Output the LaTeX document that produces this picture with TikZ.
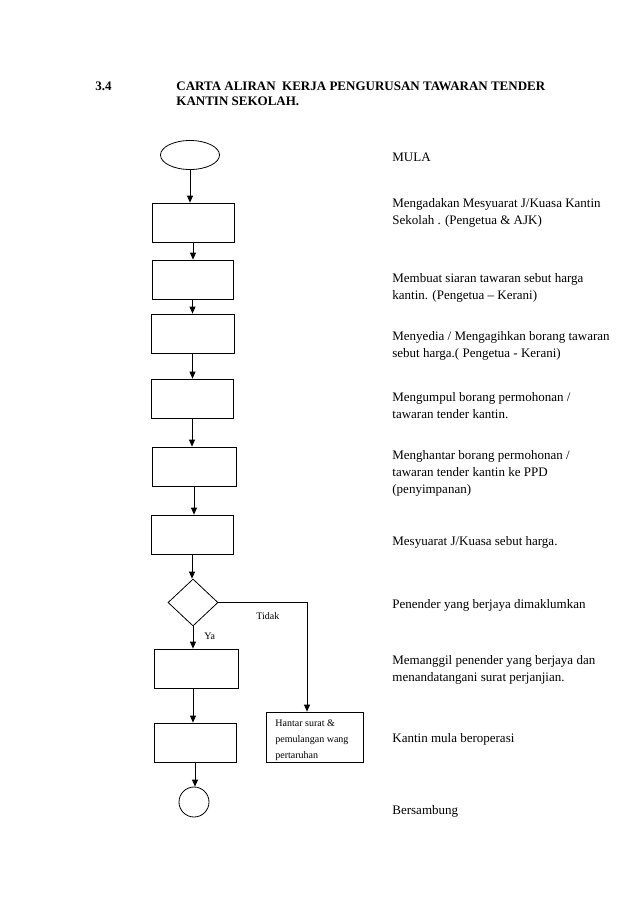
\documentclass[tikz,border=0pt]{standalone}
\usepackage{fontspec}
\setmainfont{Liberation Serif}
\usetikzlibrary{arrows.meta,shapes.geometric}
\begin{document}
\begin{tikzpicture}[x=1pt,y=-1pt,
  every path/.style={line width=0.8pt},
  stepbox/.style={draw, line width=0.8pt, minimum width=82pt, minimum height=39pt, inner sep=0pt},
  lbl/.style={anchor=base west, align=left, inner sep=0pt, font=\fontsize{13}{17}\selectfont},
  small/.style={inner sep=0pt, font=\fontsize{10}{16}\selectfont},
  arr/.style={-{Triangle[length=7pt,width=6pt]}, line width=0.8pt}
]
\useasboundingbox[fill=white] (0,0) rectangle (638,903);
% title
\node[anchor=base west, inner sep=0pt, font=\fontsize{13}{15}\selectfont\bfseries] (num) at (95,90) {3.4};
\node[anchor=base west, inner sep=0pt, align=left, font=\fontsize{13}{15}\selectfont\bfseries] (title) at (176,105) {CARTA ALIRAN\ \ KERJA PENGURUSAN TAWARAN TENDER\\KANTIN SEKOLAH.};
% flow shapes
\node[draw, ellipse, minimum width=59pt, minimum height=29pt, inner sep=0pt] (start) at (190,155) {};
\node[stepbox] (b1) at (193,222.5) {};
\node[stepbox, minimum width=81pt] (b2) at (192.5,279.5) {};
\node[stepbox, minimum width=83pt] (b3) at (192.5,333.5) {};
\node[stepbox] (b4) at (192,398.5) {};
\node[stepbox, minimum width=84pt] (b5) at (194,466.5) {};
\node[stepbox] (b6) at (192,534.5) {};
\node[draw, diamond, minimum width=50pt, minimum height=47pt, inner sep=0pt] (dec) at (193,602.5) {};
\node[stepbox, minimum width=84pt] (b7) at (196,668.5) {};
\node[stepbox] (b8) at (195,742.5) {};
\node[draw, circle, minimum size=30pt, inner sep=0pt] (end) at (194,802) {};
\node[draw, minimum width=97pt, minimum height=50pt, inner sep=0pt] (hantar) at (314.5,737) {};
\node[small, anchor=base west, align=left] (htext) at (275,758) {Hantar surat \&\\pemulangan wang\\pertaruhan};
% connectors
\draw[arr] (start.south) -- (start.south |- b1.north);
\draw[arr] (b1.south) -- (b1.south |- b2.north);
\draw[arr] (b2.south) -- (b2.south |- b3.north);
\draw[arr] (b3.south) -- (b3.south |- b4.north);
\draw[arr] (b4.south) -- (b4.south |- b5.north);
\draw[arr] (b5.south) -- (b5.south |- b6.north);
\draw[arr] (b6.south) -- (b6.south |- dec.north);
\draw[arr] (dec.south) -- (dec.south |- b7.north);
\draw[arr] ([xshift=-3pt]b7.south) -- ([xshift=-3pt]b7.south |- b8.north);
\draw[arr] (b8.south) -- (b8.south |- end.north);
\coordinate (tc) at (307,602.5);
\draw[arr] (dec.east) -- (tc) -- (tc |- hantar.north);
\node[small, anchor=base west] (tidak) at (256,619) {Tidak};
\node[small, anchor=base west] (ya) at (204,639) {Ya};
% descriptions
\node[lbl] (t0) at (392,161) {MULA};
\node[lbl] (t1) at (392,224) {Mengadakan Mesyuarat J/Kuasa Kantin\\Sekolah . (Pengetua \& AJK)};
\node[lbl] (t2) at (392,299) {Membuat siaran tawaran sebut harga\\kantin. (Pengetua -- Kerani)};
\node[lbl] (t3) at (392,357) {Menyedia / Mengagihkan borang tawaran\\sebut harga.( Pengetua - Kerani)};
\node[lbl] (t4) at (392,418) {Mengumpul borang permohonan /\\tawaran tender kantin.};
\node[lbl] (t5) at (392,493) {Menghantar borang permohonan /\\tawaran tender kantin ke PPD\\(penyimpanan)};
\node[lbl] (t6) at (392,545) {Mesyuarat J/Kuasa sebut harga.};
\node[lbl] (t7) at (392,608) {Penender yang berjaya dimaklumkan};
\node[lbl] (t8) at (392,681) {Memanggil penender yang berjaya dan\\menandatangani surat perjanjian.};
\node[lbl] (t9) at (392,742) {Kantin mula beroperasi};
\node[lbl] (t10) at (392,814) {Bersambung};
\end{tikzpicture}
\end{document}
